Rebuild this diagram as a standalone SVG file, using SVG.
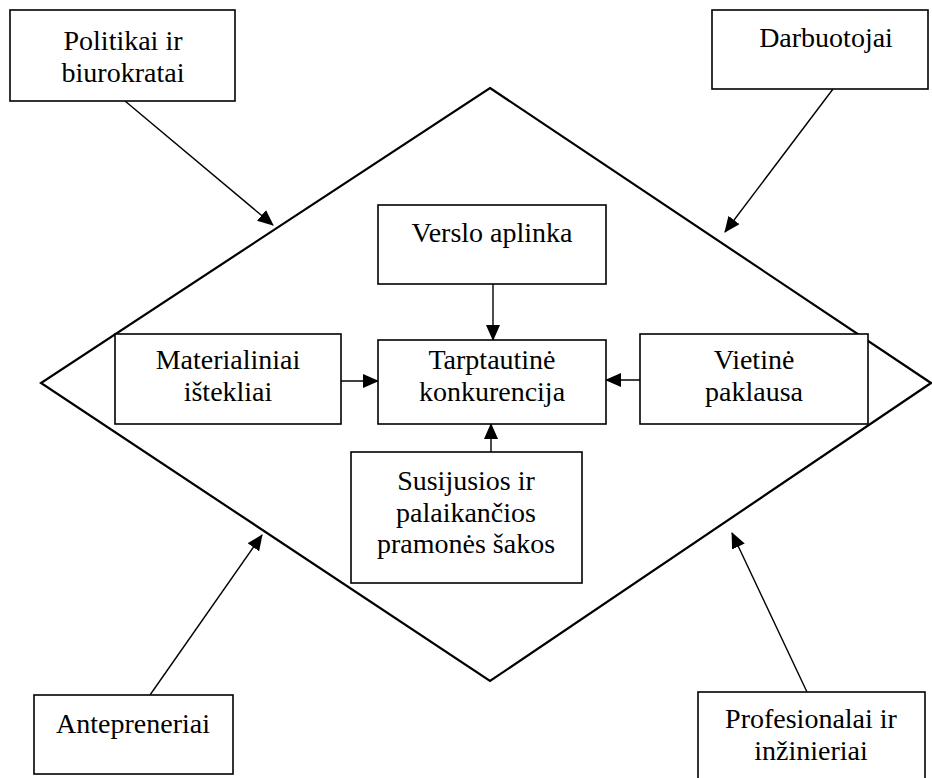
<svg xmlns="http://www.w3.org/2000/svg" width="932" height="778" viewBox="0 0 932 778">
  <style>
    .box { fill: #ffffff; stroke: #000000; stroke-width: 1.6; }
    .frame { fill: none; stroke: #000000; stroke-width: 2.2; }
    .link { fill: none; stroke: #000000; stroke-width: 1.4; marker-end: url(#arrow); }
    text { font-size: 28px; fill: #000000; text-anchor: middle; }
  </style>
  <defs>
    <marker id="arrow" markerUnits="userSpaceOnUse" markerWidth="16" markerHeight="14" refX="15" refY="7" orient="auto">
      <path d="M0,0 L16,7 L0,14 Z" fill="#000000"/>
    </marker>
  </defs>
  <rect width="932" height="778" fill="#ffffff"/>

  <!-- surrounding diamond -->
  <polygon class="frame" points="490,88 931,383 490,681 41,383"/>

  <g id="connectors">
    <line class="link" x1="125" y1="101" x2="273" y2="225"/>
    <line class="link" x1="833" y1="89" x2="725" y2="232"/>
    <line class="link" x1="150" y1="695" x2="262" y2="535"/>
    <line class="link" x1="807" y1="692" x2="732" y2="533"/>
    <line class="link" x1="493" y1="284" x2="493" y2="340"/>
    <line class="link" x1="341" y1="381" x2="378" y2="381"/>
    <line class="link" x1="640" y1="380" x2="606" y2="380"/>
    <line class="link" x1="491" y1="452" x2="491" y2="424"/>
  </g>

  <g font-family="'Liberation Serif', Tinos, 'Times New Roman', Times, 'DejaVu Serif', serif">
    <g id="politikai">
      <rect class="box" x="10" y="10" width="225" height="91"/>
      <text x="123" y="50">Politikai ir</text>
      <text x="123" y="82">biurokratai</text>
    </g>
    <g id="darbuotojai">
      <rect class="box" x="712" y="10" width="216" height="79"/>
      <text x="826" y="47">Darbuotojai</text>
    </g>
    <g id="antepreneriai">
      <rect class="box" x="34" y="695" width="199" height="79"/>
      <text x="133" y="733">Antepreneriai</text>
    </g>
    <g id="profesionalai">
      <rect class="box" x="698" y="692" width="227" height="100"/>
      <text x="811" y="728">Profesionalai ir</text>
      <text x="811" y="760">inžinieriai</text>
    </g>

    <g id="verslo">
      <rect class="box" x="378" y="205" width="228" height="79"/>
      <text x="492" y="242">Verslo aplinka</text>
    </g>
    <g id="tarptautine">
      <rect class="box" x="378" y="340" width="228" height="84"/>
      <text x="492" y="369">Tarptautinė</text>
      <text x="492" y="401">konkurencija</text>
    </g>
    <g id="materialiniai">
      <rect class="box" x="115" y="334" width="226" height="90"/>
      <text x="228" y="369">Materialiniai</text>
      <text x="228" y="401">ištekliai</text>
    </g>
    <g id="vietine">
      <rect class="box" x="640" y="334" width="228" height="90"/>
      <text x="754" y="369">Vietinė</text>
      <text x="754" y="401">paklausa</text>
    </g>
    <g id="susijusios">
      <rect class="box" x="351" y="452" width="231" height="131"/>
      <text x="466" y="490">Susijusios ir</text>
      <text x="466" y="522">palaikančios</text>
      <text x="466" y="553">pramonės šakos</text>
    </g>
  </g>
</svg>
